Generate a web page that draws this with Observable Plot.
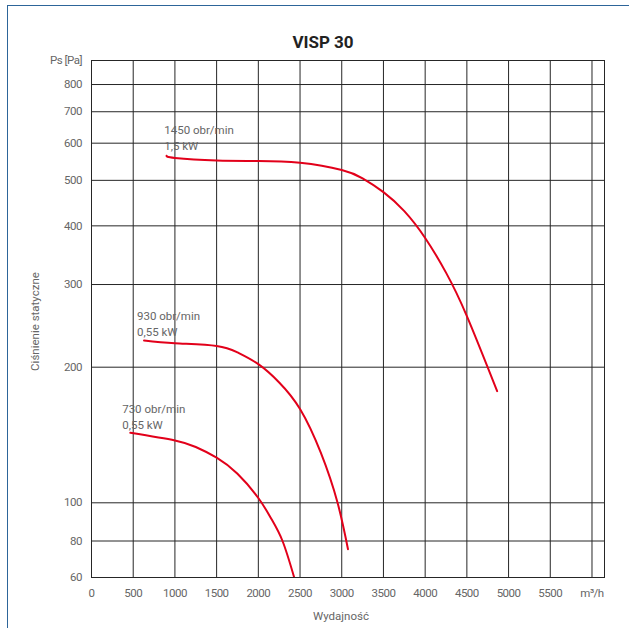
<!DOCTYPE html>
<html><head><meta charset="utf-8">
<script src="https://cdn.jsdelivr.net/npm/d3@7"></script>
<script src="https://cdn.jsdelivr.net/npm/@observablehq/plot@0.6"></script>
<style>
body{margin:0;background:#fff;}
#wrap{position:relative;width:629px;height:628px;overflow:hidden;font-family:Roboto,sans-serif;}
#border{position:absolute;left:7px;top:5px;width:800px;height:800px;border-left:1.5px solid #2d6599;border-top:1.5px solid #2d6599;}
#title{position:absolute;left:0;width:646px;top:32px;line-height:20px;text-align:center;font:bold 17px Roboto,sans-serif;color:#222;}
#chart{position:absolute;left:0;top:0;}
#chart g[aria-label$="tick label"] text{letter-spacing:-0.5px;}
</style></head>
<body><div id="wrap"><div id="border"></div><div id="title">VISP 30</div><div id="chart"></div></div>
<script>
// Axis ticks and labels
const xTicks = [0, 500, 1000, 1500, 2000, 2500, 3000, 3500, 4000, 4500, 5000, 5500, 6000];
const xTickLabels = ["0", "500", "1000", "1500", "2000", "2500", "3000", "3500", "4000", "4500", "5000", "5500", "m³/h"];
const yTicks = [60, 80, 100, 200, 300, 400, 500, 600, 700, 800, 900];
const yTickLabels = ["60", "80", "100", "200", "300", "400", "500", "600", "700", "800", "Ps [Pa]"];

// Fan curves (flow m³/h, static pressure Pa)
const flow1450 = [900, 1000, 1500, 2000, 2500, 3000, 3250, 3500, 3750, 4000, 4250, 4500, 4863];
const ps1450   = [564, 558, 551, 550, 545, 526, 505, 472, 430, 377, 318, 257, 177];
const flow930  = [630, 1000, 1500, 1750, 2000, 2250, 2500, 2750, 2950, 3075];
const ps930    = [228, 225, 222, 215, 203, 185, 161.5, 129, 100, 75];
const flow730  = [465, 1000, 1250, 1500, 1750, 2000, 2150, 2290, 2430];
const ps730    = [143, 137.5, 133, 126, 116, 102.5, 91.5, 80, 60];

// Curve labels
const labelFlow = [872, 545, 368];
const labelPs = [620, 249, 156];
const labelText = ["1450 obr/min\n1,5 kW", "930 obr/min\n0,55 kW", "730 obr/min\n0,55 kW"];

const xLabelMap = new Map(xTicks.map((d, i) => [d, xTickLabels[i]]));
const yLabelMap = new Map(yTicks.map((d, i) => [d, yTickLabels[i]]));
const toRows = (xs, ys) => xs.map((x, i) => ({x, y: ys[i]}));
const labels = labelText.map((t, i) => ({x: labelFlow[i], y: labelPs[i], t}));

const red = "#e2001a";
const grid = "#262626";
const chart = Plot.plot({
  width: 629, height: 628,
  marginLeft: 91, marginRight: 25, marginTop: 60, marginBottom: 51,
  style: {fontFamily: "Roboto, sans-serif", background: "transparent", overflow: "visible"},
  x: {domain: [0, 6150]},
  y: {type: "log", domain: [60, 80, 100, 200, 900], range: [577, 540.5, 502.3, 366.7, 60]},
  marks: [
    Plot.ruleX(xTicks, {stroke: grid, strokeWidth: 1}),
    Plot.ruleY(yTicks, {stroke: grid, strokeWidth: 1}),
    Plot.frame({stroke: grid}),
    Plot.axisX(xTicks, {tickSize: 0, tickPadding: 11, tickFormat: d => xLabelMap.get(d), fontSize: 11.5, fill: "#666", label: null}),
    Plot.axisY(yTicks, {tickSize: 0, tickPadding: 9.5, tickFormat: d => yLabelMap.get(d), fontSize: 11.5, fill: "#666", label: null}),
    Plot.text(["Wydajność"], {frameAnchor: "bottom", textAnchor: "middle", lineAnchor: "middle", dx: -7, dy: 39, fontSize: 11.5, fill: "#666"}),
    Plot.text(["Ciśnienie statyczne"], {frameAnchor: "left", textAnchor: "middle", lineAnchor: "middle", dx: -56, dy: 2.5, rotate: -90, fontSize: 11.5, fill: "#666"}),
    Plot.line(toRows(flow1450, ps1450), {x: "x", y: "y", stroke: red, strokeWidth: 2, curve: "natural"}),
    Plot.line(toRows(flow930, ps930), {x: "x", y: "y", stroke: red, strokeWidth: 2, curve: "natural"}),
    Plot.line(toRows(flow730, ps730), {x: "x", y: "y", stroke: red, strokeWidth: 2, curve: "natural", clip: true}),
    Plot.text(labels, {x: "x", y: "y", text: "t", textAnchor: "start", lineAnchor: "middle", lineHeight: 1.42, fontSize: 11.5, fill: "#666"})
  ]
});
document.getElementById("chart").appendChild(chart);
</script>
</body></html>
